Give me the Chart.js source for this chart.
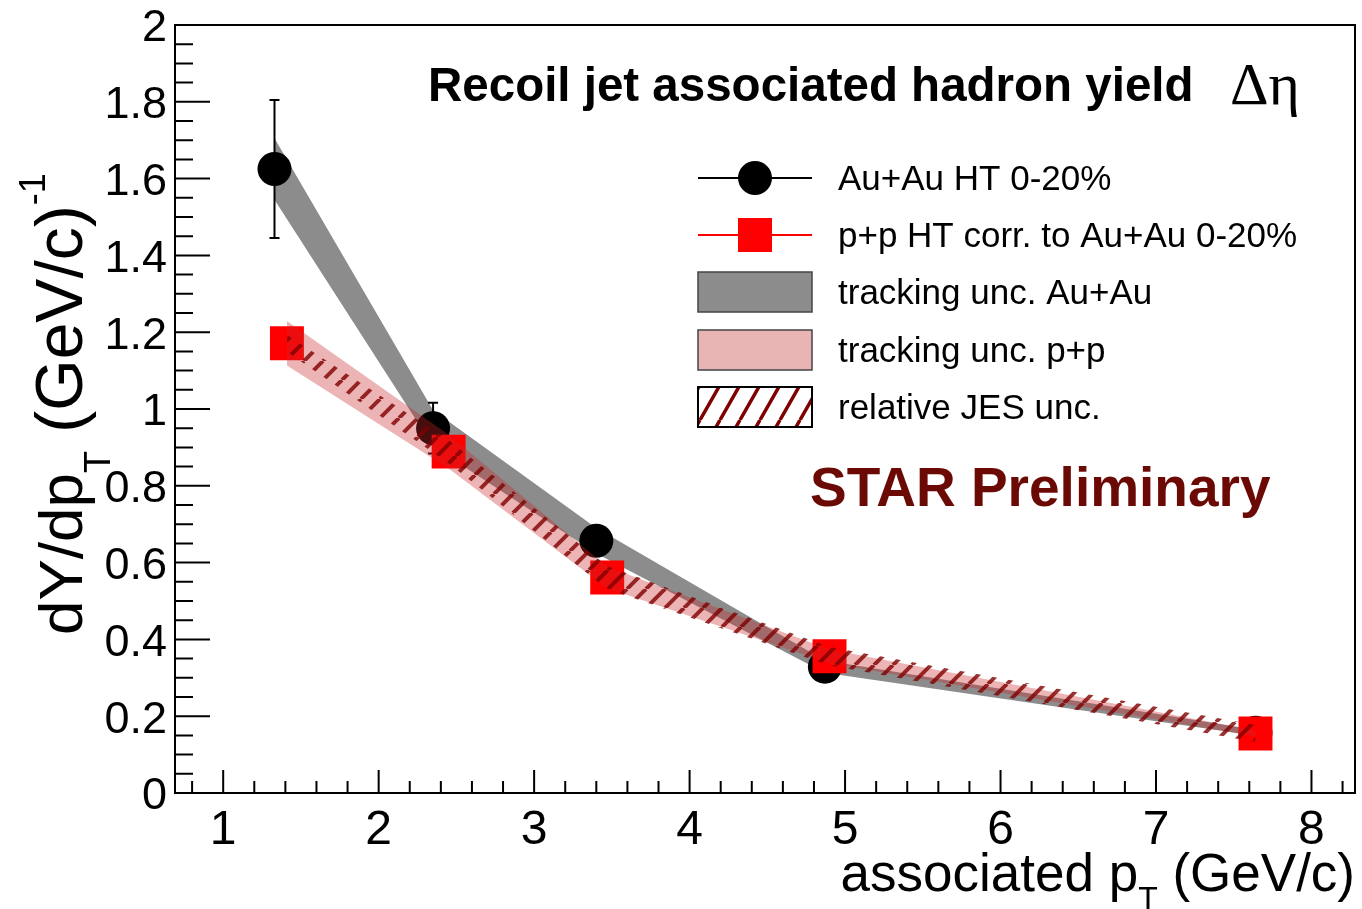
<!DOCTYPE html>
<html>
<head>
<meta charset="utf-8">
<title>Recoil jet associated hadron yield</title>
<script src="https://cdn.jsdelivr.net/npm/chart.js@4.4.1/dist/chart.umd.min.js"></script>
<style>
  html, body { margin: 0; padding: 0; background: #fff; }
  #wrap { width: 1362px; height: 909px; }
</style>
</head>
<body>
<div id="wrap"><canvas id="yieldChart" width="1362" height="909"></canvas></div>
<script>
// Au+Au HT 0-20%: associated hadron pT (GeV/c), yield, stat. error, tracking unc.
const ptAuAu = [1.33, 2.35, 3.40, 4.87, 7.64];
const yieldAuAu = [1.625, 0.950, 0.657, 0.329, 0.157];
const statAuAu = [0.180, 0.066, 0.030, 0.015, 0.008];
const trackAuAu = [0.080, 0.047, 0.033, 0.016, 0.008];

// p+p HT corrected to Au+Au 0-20%
const ptPP = [1.41, 2.45, 3.47, 4.90, 7.64];
const yieldPP = [1.171, 0.889, 0.561, 0.356, 0.155];
const trackPP = [0.058, 0.044, 0.028, 0.018, 0.008];
const jesPP = [0.022, 0.030, 0.030, 0.024, 0.022];

const xTickValues = [1, 2, 3, 4, 5, 6, 7, 8];
const yTickValues = [0, 0.2, 0.4, 0.6, 0.8, 1, 1.2, 1.4, 1.6, 1.8, 2];

const legendLabels = [
    'Au+Au HT 0-20%',
    'p+p HT corr. to Au+Au 0-20%',
    'tracking unc. Au+Au',
    'tracking unc. p+p',
    'relative JES unc.',
];

const FONT = "'Liberation Sans', Helvetica, Arial, sans-serif";
const GRAY = '#8c8c8c';
const PINK = 'rgba(200, 40, 40, 0.35)';
const MAROON = '#6b0a05';

const ctx = document.getElementById('yieldChart').getContext('2d');

// slanted "/" hatch: one stroke per w x h tile
function makeHatch(color, width, w, h) {
    const c = document.createElement('canvas');
    c.width = w;
    c.height = h;
    const g = c.getContext('2d');
    g.strokeStyle = color;
    g.lineWidth = width;
    g.beginPath();
    for (let k = -1; k <= 1; k++) {
        g.moveTo(k * w, h);
        g.lineTo(k * w + w, 0);
    }
    g.stroke();
    return ctx.createPattern(c, 'repeat');
}
const hatchBand = makeHatch('rgba(128, 0, 0, 0.8)', 4, 19, 19);
const hatchLegend = makeHatch('#800000', 3.5, 20, 35);

// upper / lower edge of an uncertainty band
function edge(xs, ys, errs, sign) {
    return xs.map((x, i) => ({ x: x, y: ys[i] + sign * errs[i] }));
}

const bandStyle = {
    showLine: true,
    borderWidth: 0,
    borderColor: 'transparent',
    pointRadius: 0,
    tension: 0,
    fill: false,
};

// draws a run of text pieces (normal / sub / superscript) left to right
function drawRuns(g, runs, x, y) {
    let cx = x;
    runs.forEach(r => {
        g.font = (r.bold ? 'bold ' : '') + r.size + 'px ' + (r.family || FONT);
        g.fillText(r.text, cx, y + (r.dy || 0));
        cx += g.measureText(r.text).width;
    });
    return cx;
}
function runsWidth(g, runs) {
    let w = 0;
    runs.forEach(r => {
        g.font = (r.bold ? 'bold ' : '') + r.size + 'px ' + (r.family || FONT);
        w += g.measureText(r.text).width;
    });
    return w;
}

// error bars on the Au+Au points
const errorBars = {
    id: 'errorBars',
    afterDatasetDraw(chart, args) {
        if (args.index !== 4) return;
        const { ctx: g, scales: { x, y } } = chart;
        g.save();
        g.strokeStyle = '#000';
        g.lineWidth = 2;
        g.beginPath();
        ptAuAu.forEach((pt, i) => {
            const px = x.getPixelForValue(pt);
            const top = y.getPixelForValue(yieldAuAu[i] + statAuAu[i]);
            const bot = y.getPixelForValue(yieldAuAu[i] - statAuAu[i]);
            g.moveTo(px, top); g.lineTo(px, bot);
            g.moveTo(px - 5, top); g.lineTo(px + 5, top);
            g.moveTo(px - 5, bot); g.lineTo(px + 5, bot);
        });
        g.stroke();
        g.restore();
    }
};

// ROOT-style frame with inward ticks
const frame = {
    id: 'frame',
    afterDatasetsDraw(chart) {
        const { ctx: g, chartArea: a, scales: { x, y } } = chart;
        g.save();
        g.strokeStyle = '#000';
        g.lineWidth = 2;
        g.strokeRect(a.left, a.top, a.right - a.left, a.bottom - a.top);
        g.beginPath();
        for (let k = 4; k <= 41; k++) {
            const px = x.getPixelForValue(k * 0.2);
            const len = k % 5 === 0 ? 23 : 12;
            g.moveTo(px, a.bottom);
            g.lineTo(px, a.bottom - len);
        }
        for (let k = 1; k < 40; k++) {
            const py = y.getPixelForValue(k * 0.05);
            const len = k % 4 === 0 ? 35 : 18;
            g.moveTo(a.left, py);
            g.lineTo(a.left + len, py);
        }
        g.stroke();
        g.restore();
    }
};

// titles, legend and axis titles
const annotations = {
    id: 'annotations',
    afterDraw(chart) {
        const g = chart.ctx;
        g.save();
        g.fillStyle = '#000';
        g.textBaseline = 'alphabetic';
        g.textAlign = 'left';

        g.font = 'bold 47.5px ' + FONT;
        g.fillText('Recoil jet associated hadron yield', 428, 101);
        g.font = "60px 'Liberation Serif', 'Times New Roman', serif";
        g.fillText('Δη', 1230, 104);

        g.fillStyle = MAROON;
        g.font = 'bold 55px ' + FONT;
        g.fillText('STAR Preliminary', 810, 506);

        // legend
        const rowY = [178, 235, 292, 350, 407];
        const x0 = 698, x1 = 812, xm = 755;
        g.lineWidth = 2;
        g.strokeStyle = '#000';
        g.beginPath(); g.moveTo(x0, rowY[0]); g.lineTo(x1, rowY[0]); g.stroke();
        g.fillStyle = '#000';
        g.beginPath(); g.arc(xm, rowY[0], 17, 0, Math.PI * 2); g.fill();

        g.strokeStyle = '#ff0000';
        g.beginPath(); g.moveTo(x0, rowY[1]); g.lineTo(x1, rowY[1]); g.stroke();
        g.fillStyle = '#ff0000';
        g.fillRect(xm - 17, rowY[1] - 17, 34, 34);

        const boxH = 40;
        g.lineWidth = 1.5;
        g.fillStyle = GRAY;
        g.fillRect(x0, rowY[2] - boxH / 2, x1 - x0, boxH);
        g.strokeStyle = '#444';
        g.strokeRect(x0, rowY[2] - boxH / 2, x1 - x0, boxH);

        g.fillStyle = '#e8b4b4';
        g.fillRect(x0, rowY[3] - boxH / 2, x1 - x0, boxH);
        g.strokeRect(x0, rowY[3] - boxH / 2, x1 - x0, boxH);

        g.fillStyle = '#fff';
        g.fillRect(x0, rowY[4] - boxH / 2, x1 - x0, boxH);
        g.fillStyle = hatchLegend;
        g.fillRect(x0, rowY[4] - boxH / 2, x1 - x0, boxH);
        g.lineWidth = 2;
        g.strokeStyle = '#000';
        g.strokeRect(x0, rowY[4] - boxH / 2, x1 - x0, boxH);

        g.fillStyle = '#000';
        g.font = '35px ' + FONT;
        legendLabels.forEach((t, i) => g.fillText(t, 838, rowY[i] + 12));

        // x axis title, right aligned to the frame
        const xRuns = [
            { text: 'associated p', size: 53 },
            { text: 'T', size: 32, dy: 18 },
            { text: ' (GeV/c)', size: 53 },
        ];
        drawRuns(g, xRuns, 1355 - runsWidth(g, xRuns), 891);

        // y axis title, rotated
        g.translate(82, 635);
        g.rotate(-Math.PI / 2);
        drawRuns(g, [
            { text: 'dY/dp', size: 62 },
            { text: 'T', size: 36, dy: 28 },
            { text: ' (GeV/c)', size: 66 },
            { text: '-1', size: 36, dy: -37 },
        ], 0, 0);
        g.restore();
    }
};

new Chart(ctx, {
    type: 'line',
    data: {
        datasets: [
            { ...bandStyle, data: edge(ptPP, yieldPP, jesPP, -1), order: 0 },
            { ...bandStyle, data: edge(ptPP, yieldPP, jesPP, 1), fill: '-1', backgroundColor: hatchBand, order: 0 },
            { ...bandStyle, data: edge(ptPP, yieldPP, trackPP, -1), order: 1 },
            { ...bandStyle, data: edge(ptPP, yieldPP, trackPP, 1), fill: '-1', backgroundColor: PINK, order: 1 },
            {
                label: legendLabels[0],
                data: ptAuAu.map((x, i) => ({ x: x, y: yieldAuAu[i] })),
                showLine: false,
                pointStyle: 'circle',
                pointRadius: 17,
                pointBackgroundColor: '#000',
                pointBorderWidth: 0,
                order: 3,
            },
            {
                label: legendLabels[1],
                data: ptPP.map((x, i) => ({ x: x, y: yieldPP[i] })),
                showLine: false,
                pointStyle: 'rect',
                pointRadius: 24,
                pointBackgroundColor: '#ff0000',
                pointBorderWidth: 0,
                order: 2,
            },
            { ...bandStyle, data: edge(ptAuAu, yieldAuAu, trackAuAu, -1), order: 4 },
            { ...bandStyle, data: edge(ptAuAu, yieldAuAu, trackAuAu, 1), fill: '-1', backgroundColor: GRAY, order: 4 },
        ]
    },
    options: {
        responsive: false,
        devicePixelRatio: 1,
        animation: false,
        events: [],
        layout: { padding: { top: 25, right: 7, left: 0, bottom: 0 }, autoPadding: false },
        plugins: {
            legend: { display: false },
            tooltip: { enabled: false },
        },
        scales: {
            x: {
                type: 'linear',
                min: 0.69,
                max: 8.28,
                afterBuildTicks: scale => { scale.ticks = xTickValues.map(v => ({ value: v })); },
                afterFit: scale => {
                    scale.height = 116;
                    scale.paddingLeft = 0;
                    scale.paddingRight = 0;
                },
                ticks: {
                    color: '#000',
                    font: { family: FONT, size: 48 },
                    padding: 9,
                    maxRotation: 0,
                    autoSkip: false,
                    callback: v => String(v),
                },
                grid: { display: false, drawTicks: false },
                border: { display: false },
            },
            y: {
                type: 'linear',
                min: 0,
                max: 2,
                afterBuildTicks: scale => { scale.ticks = yTickValues.map(v => ({ value: v })); },
                afterFit: scale => {
                    scale.width = 175;
                    scale.paddingTop = 0;
                    scale.paddingBottom = 0;
                },
                ticks: {
                    color: '#000',
                    font: { family: FONT, size: 45 },
                    padding: 8,
                    labelOffset: 4,
                    autoSkip: false,
                    callback: v => String(v),
                },
                grid: { display: false, drawTicks: false },
                border: { display: false },
            }
        }
    },
    plugins: [errorBars, frame, annotations]
});
</script>
</body>
</html>
